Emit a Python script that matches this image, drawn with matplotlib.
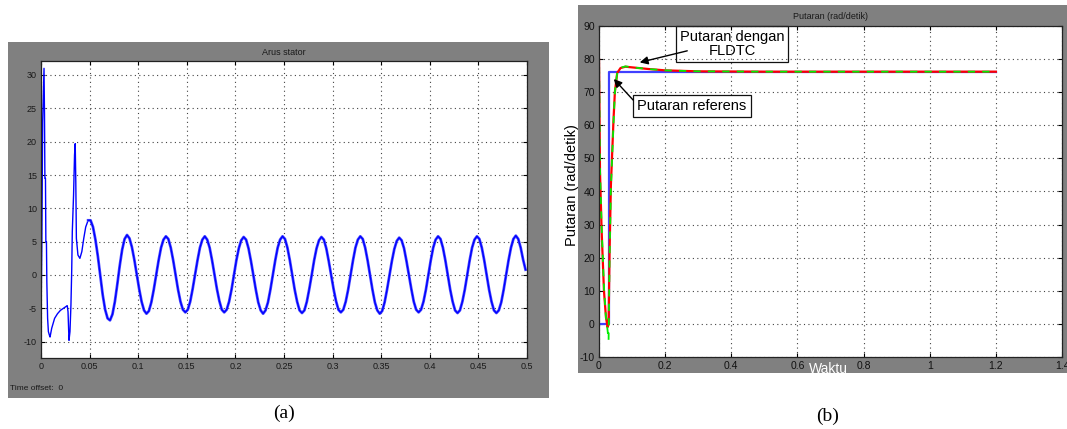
import numpy as np
import matplotlib.pyplot as plt
from matplotlib.patches import Rectangle

plt.rcParams['font.family'] = ['Liberation Sans', 'DejaVu Sans']
plt.rcParams['axes.unicode_minus'] = False

# ---- (a) Arus stator: start-up transient ----
t_start = [0, 0.0008, 0.0017, 0.0031, 0.0036, 0.0040, 0.0046, 0.0050, 0.0056, 0.0060,
           0.0068, 0.0076, 0.0086, 0.0093, 0.0110, 0.0140, 0.0170, 0.0200, 0.0230, 0.0260,
           0.0270, 0.0278, 0.0288, 0.0298, 0.0308, 0.0316, 0.0322, 0.0335, 0.0345, 0.0352,
           0.0358, 0.0364, 0.0380, 0.0400, 0.0420, 0.0440, 0.0460]
i_start = [-7.0, 4.0, 23.0, 31.0, 24.0, 14.5, 14.5, 5.0, 5.0, -1.0,
           -6.5, -8.5, -9.0, -9.3, -8.0, -6.5, -5.8, -5.3, -5.0, -4.7,
           -4.6, -5.5, -9.8, -8.5, -4.5, 0.7, 6.5, 12.0, 18.0, 19.7,
           14.0, 5.5, 3.0, 2.5, 3.5, 5.5, 7.2]

# ---- (a) sampled every 0.0025 s from 0.0485 s ----
t0_steady = 0.0485
dt_steady = 0.0025
i_steady = [8.2, 8.2, 7.2, 5.3, 2.8, -0.1, -3.0, -5.2, -6.5, -6.8, -5.9, -4.0, -1.4, 1.4, 3.8, 5.4,
            6.0, 5.5, 4.2, 2.3, 0.1, -2.1, -4.0, -5.3, -5.8, -5.4, -4.1, -2.2, 0.0, 2.2, 4.1, 5.3,
            5.8, 5.4, 4.1, 2.2, 0.0, -2.2, -4.0, -5.2, -5.6, -5.2, -4.0, -2.1, 0.1, 2.2, 4.1, 5.3,
            5.8, 5.3, 4.1, 2.2, 0.0, -2.1, -3.9, -5.2, -5.6, -5.2, -4.0, -2.2, 0.0, 2.2, 4.0, 5.2,
            5.7, 5.3, 4.0, 2.1, -0.1, -2.2, -4.1, -5.3, -5.8, -5.3, -4.1, -2.2, 0.0, 2.2, 4.1, 5.3,
            5.8, 5.4, 4.1, 2.2, 0.0, -2.2, -4.0, -5.3, -5.7, -5.3, -4.0, -2.1, 0.0, 2.2, 4.0, 5.2,
            5.7, 5.3, 4.0, 2.1, 0.0, -2.1, -3.9, -5.2, -5.6, -5.2, -4.0, -2.2, 0.0, 2.2, 4.1, 5.3,
            5.8, 5.4, 4.1, 2.2, 0.0, -2.2, -4.1, -5.3, -5.8, -5.4, -4.1, -2.2, 0.0, 2.1, 3.9, 5.1,
            5.6, 5.2, 4.0, 2.1, 0.0, -2.1, -4.0, -5.2, -5.6, -5.2, -4.0, -2.2, 0.0, 2.2, 4.1, 5.3,
            5.8, 5.4, 4.1, 2.2, 0.0, -2.2, -4.0, -5.3, -5.7, -5.3, -4.0, -2.2, 0.0, 2.2, 4.1, 5.3,
            5.8, 5.4, 4.1, 2.2, 0.0, -2.2, -4.0, -5.3, -5.7, -5.3, -4.1, -2.2, 0.0, 2.2, 4.1, 5.4,
            5.9, 5.4, 4.1, 2.3, 0.8]

a_xticks = [0, 0.05, 0.1, 0.15, 0.2, 0.25, 0.3, 0.35, 0.4, 0.45, 0.5]
a_xticklabels = ['0', '0.05', '0.1', '0.15', '0.2', '0.25', '0.3', '0.35', '0.4', '0.45', '0.5']
a_yticks = [-10, -5, 0, 5, 10, 15, 20, 25, 30]

# ---- (b) Putaran (rad/detik) ----
t_ref = [0, 0.030, 0.030, 1.2]
w_ref = [0, 0, 76.0, 76.0]
t_w = [0, 0.003, 0.008, 0.015, 0.021, 0.026, 0.029, 0.032, 0.036, 0.040, 0.044,
       0.048, 0.055, 0.065, 0.08, 0.10, 0.15, 0.20, 0.30, 0.50, 1.20]
w_red = [80, 46, 28, 10, 2, -1, 0, 22, 42, 52, 62,
         70, 75.8, 77.3, 77.7, 77.5, 77.0, 76.6, 76.3, 76.2, 76.2]
w_green = [82, 47, 29, 11, 2, -2, -5, 20, 41, 51, 61,
           70, 75.9, 77.4, 77.8, 77.5, 77.0, 76.6, 76.3, 76.2, 76.2]

b_xticks = [0, 0.2, 0.4, 0.6, 0.8, 1.0, 1.2, 1.4]
b_xticklabels = ['0', '0.2', '0.4', '0.6', '0.8', '1', '1.2', '1.4']
b_yticks = [-10, 0, 10, 20, 30, 40, 50, 60, 70, 80, 90]

W, H = 1067, 429
GRAY = '#808080'


def fig_rect(x0, y0, x1, y1):
    # pixel box (top-left origin) -> figure fraction [l, b, w, h]
    return [x0 / W, 1 - y1 / H, (x1 - x0) / W, (y1 - y0) / H]


def style_axes(ax, fs, col):
    ax.set_facecolor('white')
    ax.grid(True, color='#444444', linestyle=(0, (1, 3)), linewidth=0.8)
    ax.tick_params(direction='in', length=3, top=True, right=True,
                   labelsize=fs, labelcolor=col, pad=3)
    for s in ax.spines.values():
        s.set_color('#222222')
        s.set_linewidth(0.9)


fig = plt.figure(figsize=(W / 100, H / 100), dpi=100)

# gray scope frames
for box in [fig_rect(8, 42, 549, 398), fig_rect(578, 5, 1067, 373)]:
    fig.add_artist(Rectangle((box[0], box[1]), box[2], box[3], transform=fig.transFigure,
                             facecolor=GRAY, edgecolor='none', zorder=-1))

# ===== (a) =====
ax1 = fig.add_axes(fig_rect(41, 61, 527, 358))
t_steady = t0_steady + dt_steady * np.arange(len(i_steady))
ax1.plot(t_start + [t0_steady], i_start + [i_steady[0]], color='#0000ff', lw=1.0)
ax1.plot(t_steady, i_steady, color='#5050ff', lw=2.0, solid_joinstyle='round')
ax1.plot(t_steady, i_steady, color='#0000ff', lw=1.0)
ax1.set_xlim(0, 0.5)
ax1.set_ylim(-12.45, 32.1)
ax1.set_xticks(a_xticks)
ax1.set_xticklabels(a_xticklabels)
ax1.set_yticks(a_yticks)
style_axes(ax1, 6.5, '#1a1a1a')
ax1.set_title('Arus stator', fontsize=6.5, color='#1a1a1a', pad=4)
fig.text(10 / W, 1 - 388 / H, 'Time offset:  0', fontsize=6, color='#1a1a1a', va='center')
fig.text(284 / W, 1 - 413 / H, '(a)', fontsize=14, family='Liberation Serif',
         ha='center', va='center')

# ===== (b) =====
ax2 = fig.add_axes(fig_rect(599, 26, 1062, 357))
ax2.plot(t_ref, w_ref, color='#4040ff', lw=1.6)
ax2.plot(t_w, w_red, color='#ff0000', lw=1.6)
ax2.plot(t_w, w_green, color='#00ee00', lw=1.3, linestyle=(0, (4, 4)))
ax2.set_xlim(0, 1.4)
ax2.set_ylim(-10, 90)
ax2.set_xticks(b_xticks)
ax2.set_xticklabels(b_xticklabels)
ax2.set_yticks(b_yticks)
style_axes(ax2, 7.5, '#111111')
ax2.set_title('Putaran (rad/detik)', fontsize=6.5, color='#1a1a1a', pad=5)
fig.text(572 / W, 1 - 185 / H, 'Putaran (rad/detik)', fontsize=10.5, rotation=90,
         ha='center', va='center')
fig.text(828 / W, 1 - 369 / H, 'Waktu', fontsize=10, color='white', ha='center', va='center')
fig.text(828 / W, 1 - 416 / H, '(b)', fontsize=14, family='Liberation Serif',
         ha='center', va='center')

# annotations
ax2.text(0.402, 84.6, 'Putaran dengan\nFLDTC', fontsize=10.5, ha='center', va='center',
         linespacing=1.05, zorder=1.2,
         bbox=dict(boxstyle='square,pad=0.25', fc='white', ec='#111111', lw=0.9))
ax2.annotate('', xy=(0.115, 78.8), xytext=(0.275, 82.7),
             arrowprops=dict(arrowstyle='-|>', color='k', lw=1.0, mutation_scale=12))
ax2.text(0.280, 65.8, 'Putaran referens', fontsize=10.5, ha='center', va='center', zorder=3,
         bbox=dict(boxstyle='square,pad=0.3', fc='white', ec='#111111', lw=0.9))
ax2.annotate('', xy=(0.039, 74.6), xytext=(0.109, 67.0),
             arrowprops=dict(arrowstyle='-|>', color='k', lw=1.0, mutation_scale=12))

fig.savefig('out.png', dpi=100)
